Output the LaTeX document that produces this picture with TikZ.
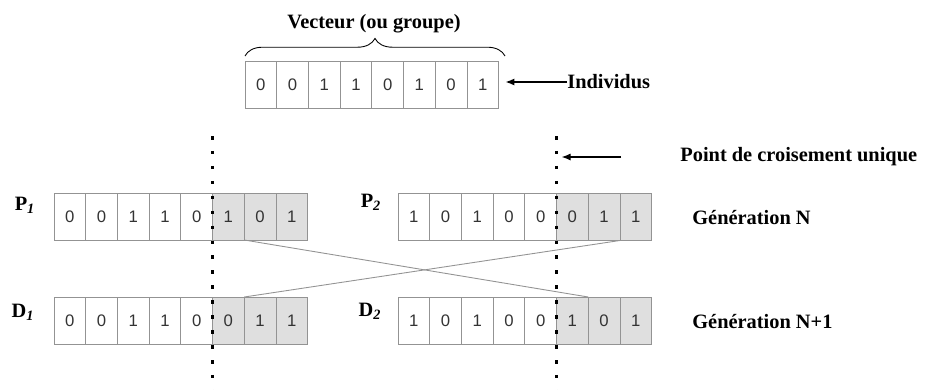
\documentclass[tikz,border=0pt]{standalone}
\usepackage{fontspec}
\setmainfont{Liberation Serif}
\newfontfamily\cellfont{Liberation Sans}
\usetikzlibrary{positioning,arrows.meta,decorations.pathreplacing}

\tikzset{
  bit/.style={draw=gray!85, minimum width=0.634cm, minimum height=0.94cm,
    inner sep=0pt, outer sep=0pt, font=\cellfont\fontsize{9.5}{11}\selectfont, text=black!80},
  bitgris/.style={bit, fill=gray!25},
  etiq/.style={font=\bfseries\fontsize{11.6}{13}\selectfont, inner sep=0pt},
  coupure/.style={line width=1.5pt, dash pattern=on 2pt off 6.5pt},
  croix/.style={draw=gray!85, line width=0.5pt},
  fleche/.style={-{Latex[length=5pt,width=4pt]}, line width=0.6pt},
}

\begin{document}
\begin{tikzpicture}[x=0.02cm, y=-0.02cm]
    \useasboundingbox (0,0) rectangle (926,389);

    % Vecteur du haut
    \foreach \b [count=\i] in {0,0,1,1,0,1,0,1}
        \node[bit] (v-\i) at (229.15+31.7*\i, 85) {\b};
    \draw[decorate, decoration={brace, amplitude=10pt}, line width=0.5pt]
        (245,56) -- (505,56);
    \node[etiq] (vecteur) at (374,24) {Vecteur (ou groupe)};
    \node[etiq, anchor=west] (ind) at (567,82) {Individus};
    \draw[fleche, shorten >=4pt] (ind.west) -- (ind.west -| v-8.east);

    % Parents et descendants
    \foreach \nom/\gx/\cy/\bits in {p1/54/216.5/{0,0,1,1,0,1,0,1},
                                    p2/398/217/{1,0,1,0,0,0,1,1},
                                    d1/54/320.5/{0,0,1,1,0,0,1,1},
                                    d2/398/320.5/{1,0,1,0,0,1,0,1}}
        \foreach \b [count=\i] in \bits {
            \ifnum\i>5 \def\st{bitgris}\else\def\st{bit}\fi
            \node[\st] (\nom-\i) at (\gx-15.85+31.7*\i, \cy) {\b};
        }

    % Etiquettes
    \node[etiq] (lp1) at (25,205) {P\textsubscript{\textit{1}}};
    \node[etiq] (lp2) at (371,202) {P\textsubscript{\textit{2}}};
    \node[etiq] (ld1) at (23,312) {D\textsubscript{\textit{1}}};
    \node[etiq] (ld2) at (370,311) {D\textsubscript{\textit{2}}};
    \node[etiq, anchor=west] (gen) at (692,218) {Génération N};
    \node[etiq, anchor=west] (gen1) at (692,322) {Génération N+1};
    \node[etiq, anchor=west] (point) at (680,157) {Point de croisement unique};

    % Croisement
    \draw[croix] (p1-7.south west) -- (d2-7.north west);
    \draw[croix] (p2-8.south west) -- (d1-7.north west);

    % Points de coupure
    \coordinate (cg-h) at (p1-5.east |- 0,136);
    \coordinate (cg-b) at (p1-5.east |- 0,392);
    \coordinate (cd-h) at (p2-5.east |- 0,136);
    \coordinate (cd-b) at (p2-5.east |- 0,392);
    \draw[coupure] (cg-h) -- (cg-b);
    \draw[coupure] (cd-h) -- (cd-b);
    \coordinate (pc) at (621,157);
    \draw[fleche] (pc) -- ([xshift=3pt]cd-h |- pc);
\end{tikzpicture}
\end{document}
